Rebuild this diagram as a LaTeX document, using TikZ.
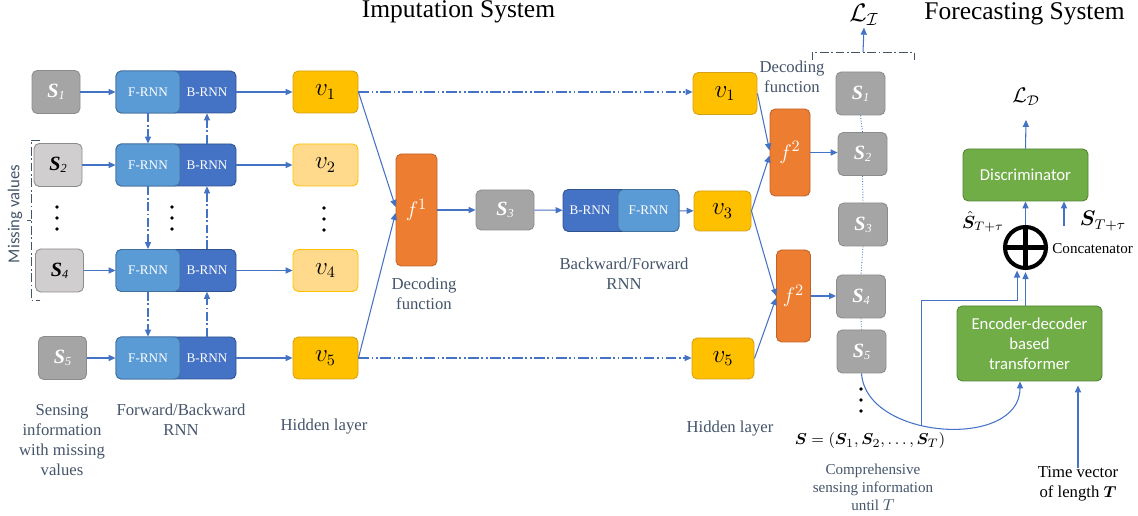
\documentclass[tikz,border=0pt]{standalone}
\usepackage{fontspec}
\setmainfont{Liberation Serif}
\newfontfamily\calibri{Carlito}
\usepackage{amsmath,bm}
\usetikzlibrary{arrows.meta,calc}
\definecolor{arr}{HTML}{4472C4}
\definecolor{sdark}{HTML}{A5A5A5}
\definecolor{sdarkb}{HTML}{8C8C8C}
\definecolor{slight}{HTML}{D0CECE}
\definecolor{fblue}{HTML}{5B9BD5}
\definecolor{fblueb}{HTML}{41719C}
\definecolor{bblue}{HTML}{4472C4}
\definecolor{bblueb}{HTML}{2F528F}
\definecolor{vor}{HTML}{FFC000}
\definecolor{vorb}{HTML}{D4A017}
\definecolor{vlight}{HTML}{FFDA8C}
\definecolor{forange}{HTML}{ED7D31}
\definecolor{forangeb}{HTML}{C0622A}
\definecolor{gr}{HTML}{70AD47}
\definecolor{grb}{HTML}{548235}
\definecolor{lbl}{HTML}{44546A}
\newcommand\sv[1]{\textbf{\textit{S}}\raisebox{-0.2ex}{\fontsize{7}{8}\selectfont\textit{#1}}}
\tikzset{
 con/.style={draw=arr, line width=0.6pt, -{Triangle[length=4pt,width=3.5pt]}},
 dd/.style={dash pattern=on 5pt off 1.5pt on 1pt off 1.5pt},
 ddd/.style={dash pattern=on 6pt off 1.5pt on 1pt off 1.5pt on 1pt off 1.5pt},
 bx/.style={rounded corners=3pt, inner sep=0pt, line width=0.5pt},
 sz/.style 2 args={minimum width=#1*0.02cm, minimum height=#2*0.02cm},
 sbox/.style={bx, fill=sdark, draw=sdarkb, text=white, font=\fontsize{11.5}{12}\selectfont},
 sboxl/.style={bx, fill=slight, draw=sdarkb, text=black, font=\fontsize{11.5}{12}\selectfont},
 rbox/.style={bx, fill=bblue, draw=bblueb},
 fbox/.style={bx, fill=fblue, draw=fblueb, text=white, font=\fontsize{7.5}{9}\selectfont},
 rtxt/.style={inner sep=0pt, sz={56}{42}, text=white, font=\fontsize{7.5}{9}\selectfont},
 vbox/.style={bx, fill=vor, draw=vorb, font=\fontsize{13.5}{15}\selectfont},
 vboxl/.style={bx, fill=vlight, draw=vor, font=\fontsize{13.5}{15}\selectfont},
 obox/.style={bx, fill=forange, draw=forangeb, text=white, font=\fontsize{13}{15}\selectfont},
 gbox/.style={bx, fill=gr, draw=grb, text=white, align=center, font=\calibri\fontsize{9.5}{11.3}\selectfont},
 lab/.style={text=lbl, align=center, inner sep=0pt, font=\fontsize{9.5}{11.3}\selectfont},
 labs/.style={text=lbl, align=center, inner sep=0pt, font=\fontsize{8.6}{10.2}\selectfont},
 title/.style={anchor=base, inner sep=0pt, font=\fontsize{14.5}{16}\selectfont}
}
\newcommand\threedots[2]{\foreach \dy in {-11,0,11}{\fill (#1,#2+\dy) circle (1.8);}}
\begin{document}
\begin{tikzpicture}[x=0.02cm,y=-0.02cm]
\useasboundingbox (0,0) rectangle (1138,516);

% titles
\node[title] (t1) at (458.5,17.5) {Imputation System};
\node[title] (t2) at (1024.5,20) {Forecasting System};

% left rows
\foreach \i/\y/\sx/\ss/\vs in {1/92/56/sbox/vbox, 2/165/58/sboxl/vboxl, 4/270.5/59.5/sboxl/vboxl, 5/358/62.5/sbox/vbox}{
 \node[\ss, sz={48}{43}] (s\i) at (\sx,\y) {\sv{\i}};
 \node[rbox, sz={120}{42}] (r\i) at (176,\y) {};
 \node[fbox, sz={64}{42}] (f\i) at (148,\y) {F-RNN};
 \node[rtxt] (b\i) at (207,\y) {B-RNN};
 \node[\vs, sz={65}{42}] (v\i) at (325.5,\y) {$v_{\i}$};
 \draw[con] (s\i) -- (r\i);
 \draw[con] (r\i) -- (v\i);
}
\threedots{57}{218}
\threedots{172}{218}
\threedots{324}{219}

\draw[con,dd] (f1.south) -- (f2.north);
\draw[con,dd] (f2.south) -- (f4.north);
\draw[con,dd] (f4.south) -- (f5.north);
\draw[con,dd] (b5.north) -- (b4.south);
\draw[con,dd] (b4.north) -- (b2.south);
\draw[con,dd] (b2.north) -- (b1.south);

% missing values bracket
\draw[dd, draw=lbl, line width=0.5pt] (40,140) -- (31,140) -- (31,300) -- (40,300);
\draw[draw=lbl, line width=0.5pt] (31,220) -- (27,220);
\node[rotate=90, text=lbl, font=\calibri\fontsize{9.5}{11}\selectfont] (mv) at (15,214) {Missing values};

% left labels
\node[lab] (l1) at (62,440) {Sensing\\information\\with missing\\values};
\node[lab] (l2) at (181,420) {Forward/Backward\\RNN};
\node[lab] (l3) at (324,427) {Hidden layer};

% middle
\node[obox, sz={41}{112}] (g1) at (416.5,210) {$f^1$};
\node[lab] (l4) at (424,294) {Decoding\\function};
\node[sbox, sz={58}{40}] (s3) at (505,210) {\sv{3}};
\node[rbox, sz={116}{42}] (r3) at (621,210.5) {};
\node[fbox, sz={61}{42}] (f3) at (648.5,210.5) {F-RNN};
\node[rtxt] (b3) at (590,210.5) {B-RNN};
\node[vbox, sz={57}{40}] (v3) at (722.5,211) {$v_3$};
\node[lab] (l5) at (624,274) {Backward/Forward\\RNN};
\node[vbox, sz={64}{42}] (v1r) at (725,93.5) {$v_1$};
\node[vbox, sz={62}{41}] (v5r) at (723,358.5) {$v_5$};
\node[lab] (l6) at (730,429) {Hidden layer};

\draw[con,ddd] (v1.east) -- (v1.east -| v1r.west);
\draw[con,ddd] (v5.east) -- (v5.east -| v5r.west);
\draw[con] (v1.east) -- ($(g1.west)+(0,-3)$);
\draw[con] (v5.east) -- ($(g1.west)+(0,3)$);
\draw[con] (g1) -- (s3);
\draw[con] (s3) -- (r3);
\draw[con] (r3) -- (v3);

% second decoding
\node[obox, sz={40}{87}] (g2) at (790,152.5) {$f^2$};
\node[obox, sz={34}{92}] (g3) at (793.5,296) {$f^2$};
\node[lab] (l7) at (792,77) {Decoding\\function};
\draw[con] (v1r.east) -- ($(g2.west)+(0,-2)$);
\draw[con] (v3.east) -- ($(g2.west)+(0,3)$);
\draw[con] (v3.east) -- (g3.west);
\draw[con] (v5r.east) -- ($(g3.west)+(0,2)$);

% right S column
\node[sbox, sz={49}{43}] (s1r) at (860.5,93.5) {\sv{1}};
\node[sbox, sz={49}{43}] (s2r) at (862.5,154) {\sv{2}};
\node[sbox, sz={49}{43}] (s3r) at (863,224.5) {\sv{3}};
\node[sbox, sz={49}{43}] (s4r) at (861,296.5) {\sv{4}};
\node[sbox, sz={49}{43}] (s5r) at (861.5,351.5) {\sv{5}};
\draw[arr, densely dotted, line width=0.5pt] (s1r.south) -- (s2r.north);
\draw[arr, densely dotted, line width=0.5pt] (s2r.south) -- (s3r.north);
\draw[arr, densely dotted, line width=0.5pt] (s3r.south) -- (s4r.north);
\draw[arr, densely dotted, line width=0.5pt] (s4r.south) -- (s5r.north);
\draw[con] (g2.east) -- (g2.east -| s2r.west);
\draw[con] (g3.east) -- (g3.east -| s4r.west);
\threedots{861}{400}

% top bracket and loss
\draw[dd, draw=lbl, line width=0.5pt] (812,60) -- (812,52) -- (914,52) -- (914,60);
\coordinate (bt) at (863,52);
\node[inner sep=1pt, font=\fontsize{14}{16}\selectfont] (LI) at (864,15) {$\mathcal{L}_{\mathcal{I}}$};
\draw[con] (bt) -- (LI.south);

\node[lab, text=black] (seq) at (870,441) {$\bm S=(\bm S_1,\bm S_2,\dots,\bm S_T)$};
\node[labs] (com) at (873,487) {Comprehensive\\sensing information\\until $T$};

% forecasting
\node[gbox, sz={125}{52}] (disc) at (1025.5,175) {Discriminator};
\node[inner sep=1pt, font=\fontsize{12}{14}\selectfont] (LD) at (1026,97) {$\mathcal{L}_{\mathcal{D}}$};
\draw[con] (disc.north) -- ($(LD.south)+(0,12)$);
\node[circle, draw=black, line width=2.3pt, sz={41}{41}, inner sep=0pt,
  path picture={\draw[line width=2.3pt] (path picture bounding box.north) -- (path picture bounding box.south)
   (path picture bounding box.west) -- (path picture bounding box.east);}] (cat) at (1025.5,247.5) {};
\node[anchor=west, inner sep=0pt, font=\fontsize{8.6}{10}\selectfont] (cc) at (1052,249) {Concatenator};
\draw[con] (cat.north) -- (disc.south);
\node[gbox, sz={145}{75}] (enc) at (1029.5,343.5) {Encoder-decoder\\based\\transformer};
\draw[con, shorten >=1.2pt] (enc.north -| cat) -- (cat.south);
\node[inner sep=0pt, font=\fontsize{10}{12}\selectfont] (sh) at (983,222) {$\hat{\bm S}_{T+\tau}$};
\node[inner sep=0pt, font=\fontsize{12}{14}\selectfont] (st) at (1103,221) {$\bm S_{T+\tau}$};
\coordinate (stc) at (1064,226);
\draw[con] (stc) -- (stc |- disc.south);

\draw[con] (s5r.south) .. controls (866,440) and (1020,450) .. ($(enc.south)+(-9.5,0)$) coordinate[pos=0.41] (j);
\draw[con, shorten >=1.2pt] (j) |- ($(cat.-112)+(0,32)$) -- (cat.-112);

\node[align=center, inner sep=0pt, font=\fontsize{9.5}{11.5}\selectfont] (tv) at (1078,484) {Time vector\\of length $\bm{T}$};
\draw[con] ([yshift=-1pt]tv.north) -- ($(enc.south -| tv)+(0,4)$);
\end{tikzpicture}
\end{document}
